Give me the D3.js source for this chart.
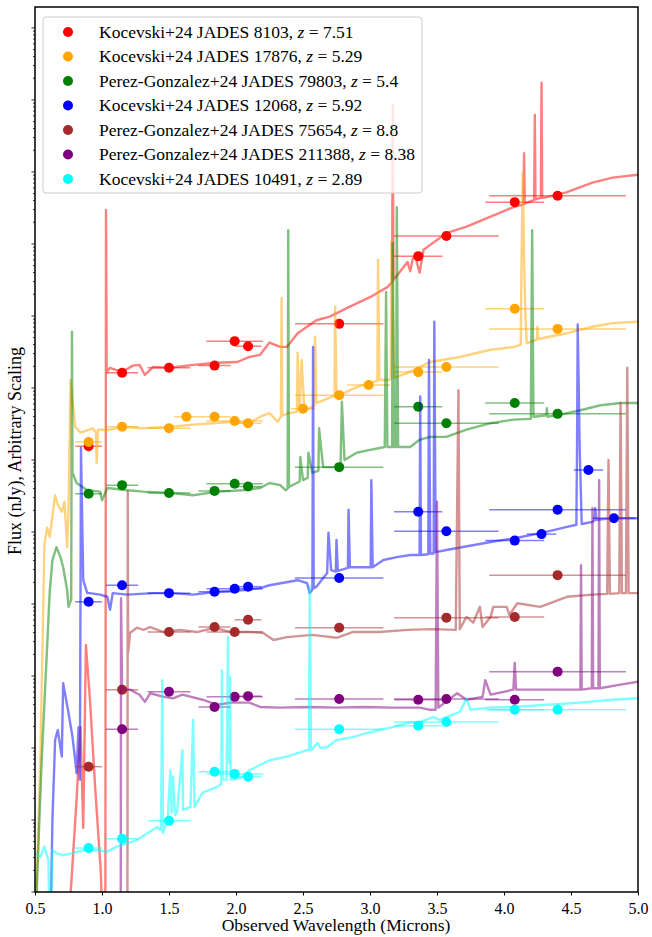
<!DOCTYPE html>
<html>
<head>
<meta charset="utf-8">
<title>JADES spectra</title>
<script src="https://d3js.org/d3.v7.min.js"></script>
<style>
    body { margin: 0; background: #fff; }
    text { font-family: "Liberation Serif", "DejaVu Serif", serif; fill: #000; }
</style>
</head>
<body>
<script>

    // objects, in legend order
    var names = ['Kocevski+24 JADES 8103, ', 'Kocevski+24 JADES 17876, ', 'Perez-Gonzalez+24 JADES 79803, ',
                 'Kocevski+24 JADES 12068, ', 'Perez-Gonzalez+24 JADES 75654, ', 'Perez-Gonzalez+24 JADES 211388, ',
                 'Kocevski+24 JADES 10491, '];
    var redshifts = ['7.51', '5.29', '5.4', '5.92', '8.8', '8.38', '2.89'];
    var colors = ['red', 'orange', 'green', 'blue', 'brown', 'purple', 'cyan'];

    // NIRCam filters: pivot wavelength and half width (microns)
    var filterNames = ['F090W', 'F115W', 'F150W', 'F162M', 'F182M', 'F200W', 'F210M', 'F250M', 'F277W',
                       'F300M', 'F335M', 'F356W', 'F410M', 'F430M', 'F444W', 'F460M', 'F480M'];
    var filterWave = [0.90, 1.15, 1.50, 1.63, 1.84, 1.99, 2.09, 2.50, 2.77, 2.99, 3.36, 3.57, 4.08, 4.28, 4.40, 4.63, 4.82];
    var filterHalf = [0.10, 0.12, 0.16, 0.09, 0.12, 0.21, 0.10, 0.09, 0.33, 0.16, 0.18, 0.39, 0.22, 0.11, 0.51, 0.11, 0.16];

    // spectra: [wavelength (micron), log10 flux (arbitrary scaling)]
    var spec8103 = [[0.76,-0.2],[0.81,1.28],[0.84,2.29],[0.86,0.89],[0.88,3.43],[0.91,2.67],[0.95,1.42],[0.99,0.31],[1.0,-0.2],[1.025,-0.2],
        [1.03,9.47],[1.035,7.22],[1.06,7.28],[1.15,7.22],[1.23,7.31],[1.28,7.32],[1.32,7.18],[1.38,7.29],[1.51,7.28],[1.68,7.32],
        [1.86,7.35],[2.01,7.36],[2.10,7.43],[2.18,7.46],[2.25,7.63],[2.33,7.57],[2.38,7.57],[2.46,7.76],[2.60,7.94],[2.70,7.99],
        [2.85,8.13],[3.00,8.26],[3.13,8.40],[3.165,8.47],[3.17,10.93],[3.175,8.50],[3.28,8.75],[3.30,8.62],[3.32,8.80],[3.34,8.81],
        [3.37,8.60],[3.40,8.92],[3.57,9.15],[3.72,9.24],[3.90,9.38],[4.07,9.51],[4.145,9.55],[4.15,10.26],[4.155,9.56],[4.225,9.61],
        [4.23,10.79],[4.235,9.62],[4.275,9.64],[4.28,11.24],[4.285,9.64],[4.32,9.65],[4.47,9.72],[4.66,9.85],[4.81,9.92],[5.0,9.96]];
    var spec17876 = [[0.51,-0.1],[0.54,1.83],[0.57,4.82],[0.59,5.06],[0.61,4.93],[0.65,5.51],[0.67,5.38],[0.70,5.28],[0.72,5.42],[0.74,4.79],
        [0.75,5.28],[0.765,7.11],[0.78,6.83],[0.80,6.46],[0.84,6.38],[0.93,6.44],[0.955,6.38],[0.96,5.96],[0.97,6.42],[1.06,6.42],
        [1.15,6.46],[1.31,6.44],[1.51,6.46],[1.68,6.49],[1.83,6.51],[1.98,6.53],[2.10,6.51],[2.18,6.60],[2.25,6.65],[2.31,6.53],
        [2.335,6.6],[2.34,8.25],[2.345,6.62],[2.40,6.65],[2.455,6.67],[2.46,7.49],[2.475,6.69],[2.49,7.39],[2.51,6.69],[2.585,6.75],
        [2.59,7.71],[2.60,6.79],[2.72,6.88],[2.735,6.88],[2.74,8.13],[2.75,6.88],[2.90,7.01],[3.00,7.07],[3.055,7.1],[3.06,8.78],
        [3.07,7.11],[3.13,7.11],[3.155,7.12],[3.16,9.03],[3.18,7.14],[3.28,7.21],[3.37,7.29],[3.45,7.36],[3.67,7.43],[3.90,7.53],
        [4.08,7.57],[4.125,7.6],[4.13,8.6],[4.14,9.99],[4.15,8.8],[4.16,8.0],[4.17,7.62],[4.245,7.67],[4.25,7.85],[4.255,7.68],
        [4.47,7.76],[4.66,7.85],[4.81,7.90],[5.0,7.92]];
    var spec79803 = [[0.51,-0.1],[0.55,1.83],[0.60,3.78],[0.61,4.17],[0.63,4.61],[0.66,4.79],[0.69,4.65],[0.71,4.51],[0.74,4.19],[0.75,3.96],
        [0.77,4.06],[0.776,7.78],[0.78,5.82],[0.81,5.68],[0.89,5.58],[0.985,5.56],[1.0,5.44],[1.04,5.61],[1.19,5.58],[1.31,5.56],
        [1.51,5.54],[1.68,5.51],[1.86,5.56],[2.05,5.58],[2.18,5.61],[2.25,5.68],[2.33,5.65],[2.37,5.58],[2.385,5.6],[2.39,9.19],
        [2.395,5.62],[2.40,5.63],[2.475,5.7],[2.48,6.04],[2.50,5.72],[2.535,5.75],[2.54,6.10],[2.57,5.82],[2.615,5.85],[2.62,6.44],
        [2.65,5.90],[2.78,5.90],[2.79,6.81],[2.81,6.0],[2.90,6.10],[3.0,6.14],[3.11,6.18],[3.12,8.33],[3.13,6.18],[3.165,6.18],
        [3.17,9.01],[3.18,6.18],[3.195,6.18],[3.20,9.51],[3.21,6.18],[3.30,6.18],[3.37,6.28],[3.45,6.32],[3.57,6.32],[3.72,6.42],
        [3.90,6.51],[4.07,6.56],[4.20,6.57],[4.21,9.19],[4.22,6.6],[4.315,6.62],[4.32,6.72],[4.325,6.6],[4.42,6.63],[4.57,6.69],
        [4.72,6.76],[4.87,6.79],[5.0,6.79]];
    var spec12068 = [[0.62,-0.1],[0.63,1.0],[0.65,2.11],[0.67,2.25],[0.70,1.88],[0.71,2.90],[0.75,2.49],[0.78,2.15],[0.80,1.83],[0.81,1.65],
        [0.825,2.29],[0.835,1.56],[0.843,6.17],[0.86,4.33],[0.89,4.15],[0.91,4.15],[0.985,4.13],[1.04,4.10],[1.06,3.92],[1.08,4.15],
        [1.19,4.13],[1.38,4.15],[1.51,4.15],[1.68,4.13],[1.86,4.17],[2.05,4.19],[2.18,4.22],[2.25,4.26],[2.46,4.33],[2.53,4.29],
        [2.55,4.15],[2.57,4.2],[2.575,7.57],[2.58,4.22],[2.60,4.24],[2.68,4.43],[2.69,4.99],[2.71,4.47],[2.745,4.45],[2.75,4.89],
        [2.76,4.46],[2.78,4.47],[2.835,4.5],[2.84,5.31],[2.85,4.51],[2.95,4.51],[3.005,4.51],[3.01,5.72],[3.02,4.51],[3.10,4.61],
        [3.20,4.65],[3.30,4.68],[3.37,4.68],[3.375,6.88],[3.38,4.68],[3.435,4.69],[3.44,7.39],[3.45,4.70],[3.475,4.70],[3.48,7.92],
        [3.49,4.72],[3.57,4.75],[3.90,4.86],[4.10,4.92],[4.29,4.99],[4.47,5.07],[4.54,5.10],[4.545,6.14],[4.55,7.88],[4.565,6.14],
        [4.58,5.11],[4.66,5.14],[4.675,5.16],[4.68,5.33],[4.69,5.17],[4.81,5.19],[5.0,5.19]];
    var spec75654 = [[1.17,-0.2],[1.19,-0.2],[1.192,5.56],[1.195,3.32],[1.21,3.60],[1.26,3.67],[1.31,3.64],[1.36,3.68],[1.46,3.61],[1.58,3.64],
        [1.71,3.61],[1.84,3.67],[1.96,3.61],[2.10,3.61],[2.20,3.60],[2.28,3.50],[2.38,3.54],[2.57,3.57],[2.75,3.53],[2.87,3.61],
        [3.07,3.61],[3.28,3.64],[3.47,3.65],[3.64,3.64],[3.66,6.97],[3.67,3.65],[3.72,3.82],[3.77,3.74],[3.82,3.96],[3.84,3.68],
        [3.90,3.82],[3.92,3.96],[4.02,3.96],[4.04,3.85],[4.10,4.01],[4.27,3.96],[4.47,4.10],[4.66,4.13],[4.77,4.14],[4.78,6.0],
        [4.79,4.14],[4.86,4.15],[4.87,6.79],[4.88,4.15],[4.91,4.15],[4.92,7.28],[4.93,4.15],[5.0,4.15]];
    var spec211388 = [[1.12,-0.2],[1.14,-0.2],[1.142,4.08],[1.15,2.81],[1.21,2.81],[1.28,2.74],[1.32,2.64],[1.36,2.76],[1.46,2.71],[1.53,2.69],
        [1.60,2.74],[1.75,2.67],[1.86,2.60],[1.96,2.63],[2.10,2.63],[2.18,2.57],[2.33,2.56],[2.55,2.57],[2.75,2.56],[2.95,2.57],
        [3.17,2.56],[3.37,2.56],[3.45,2.53],[3.49,2.53],[3.50,5.42],[3.51,2.56],[3.65,2.76],[3.72,2.67],[3.84,2.71],[3.86,2.94],
        [3.90,2.74],[4.07,2.81],[4.08,3.18],[4.09,2.81],[4.32,2.81],[4.57,2.81],[4.575,4.54],[4.58,2.81],[4.655,2.83],[4.66,5.33],
        [4.665,2.83],[4.705,2.83],[4.71,5.72],[4.715,2.83],[4.87,2.88],[5.0,2.92]];
    var spec10491 = [[0.5,0.54],[0.54,0.49],[0.57,0.63],[0.60,0.44],[0.605,-0.1],[0.62,-0.1],[0.63,0.58],[0.66,0.54],[0.71,0.51],[0.78,0.54],
        [0.86,0.58],[0.96,0.58],[1.04,0.56],[1.11,0.63],[1.19,0.68],[1.26,0.72],[1.34,0.82],[1.41,0.90],[1.44,0.86],[1.45,2.94],
        [1.455,0.82],[1.49,1.0],[1.51,1.69],[1.52,1.1],[1.53,1.60],[1.545,1.07],[1.56,1.10],[1.60,1.97],[1.605,1.14],[1.66,1.18],
        [1.68,2.39],[1.69,1.18],[1.75,1.38],[1.86,1.46],[1.89,1.5],[1.895,3.08],[1.90,1.56],[1.93,1.56],[1.94,3.54],[1.945,1.8],
        [1.955,2.99],[1.96,1.56],[1.98,1.56],[2.05,1.60],[2.10,1.69],[2.25,1.83],[2.38,1.88],[2.53,1.97],[2.545,1.97],[2.55,4.24],
        [2.56,1.97],[2.61,2.07],[2.63,2.0],[2.68,2.01],[2.75,2.11],[2.87,2.15],[2.98,2.21],[3.07,2.25],[3.17,2.29],[3.28,2.35],
        [3.37,2.36],[3.47,2.43],[3.52,2.39],[3.67,2.5],[3.72,2.69],[3.75,2.53],[3.90,2.56],[4.07,2.57],[4.32,2.60],[4.57,2.63],
        [4.81,2.67],[5.0,2.69]];

    // photometry: [filter, log10 flux]
    var phot8103 = [['F090W',6.19],['F115W',7.21],['F150W',7.28],['F182M',7.31],['F200W',7.65],['F210M',7.58],['F277W',7.89],
        ['F335M',8.83],['F356W',9.11],['F410M',9.58],['F444W',9.67]];
    var phot17876 = [['F090W',6.25],['F115W',6.46],['F150W',6.44],['F162M',6.60],['F182M',6.60],['F200W',6.54],['F210M',6.51],
        ['F250M',6.71],['F277W',6.90],['F300M',7.04],['F335M',7.22],['F356W',7.29],['F410M',8.10],['F444W',7.82]];
    var phot79803 = [['F090W',5.53],['F115W',5.65],['F150W',5.54],['F182M',5.57],['F200W',5.67],['F210M',5.63],['F277W',5.90],
        ['F335M',6.74],['F356W',6.51],['F410M',6.79],['F444W',6.64]];
    var phot12068 = [['F090W',4.03],['F115W',4.26],['F150W',4.15],['F182M',4.17],['F200W',4.21],['F210M',4.24],['F277W',4.36],
        ['F335M',5.28],['F356W',5.01],['F410M',4.88],['F430M',4.97],['F444W',5.31],['F460M',5.86],['F480M',5.19]];
    var phot75654 = [['F090W',1.74],['F115W',2.81],['F150W',3.61],['F182M',3.68],['F200W',3.61],['F210M',3.78],['F277W',3.67],
        ['F356W',3.81],['F410M',3.82],['F444W',4.40]];
    var phot211388 = [['F115W',2.26],['F150W',2.78],['F182M',2.57],['F200W',2.71],['F210M',2.72],['F277W',2.68],['F335M',2.67],
        ['F356W',2.68],['F410M',2.67],['F444W',3.06]];
    var phot10491 = [['F090W',0.61],['F115W',0.74],['F150W',0.99],['F182M',1.67],['F200W',1.64],['F210M',1.60],['F277W',2.26],
        ['F335M',2.31],['F356W',2.36],['F410M',2.53],['F444W',2.53]];

    var spectra = [spec8103, spec17876, spec79803, spec12068, spec75654, spec211388, spec10491];
    var photometry = [phot8103, phot17876, phot79803, phot12068, phot75654, phot211388, phot10491];

    var xTicks = [0.5, 1.0, 1.5, 2.0, 2.5, 3.0, 3.5, 4.0, 4.5, 5.0];
    var yTopLog = 12.29;

    var svg = d3.select('body')
                    .append('svg')
                    .attr('width', 652)
                    .attr('height', 937);

    var x = d3.scaleLinear().domain([0.5, 5.0]).range([35, 638]);
    var y = d3.scaleLog().domain([1, Math.pow(10, yTopLog)]).range([892, 7]);

    function yv(v) { return y(Math.pow(10, v)); }
    function fIndex(f) { return filterNames.indexOf(f); }

    svg.append('clipPath').attr('id', 'plotclip')
        .append('rect').attr('x', 35).attr('y', 7).attr('width', 603).attr('height', 885);

    var plot = svg.append('g').attr('clip-path', 'url(#plotclip)');

    var line = d3.line()
            .x(function(d) { return x(d[0]); })
            .y(function(d) { return yv(d[1]); });

    // layer contents: spectrum, error bars, points for each object
    spectra.forEach(function(spec, i) {
        var g = plot.append('g');
        g.append('path')
            .attr('d', line(spec))
            .attr('fill', 'none')
            .attr('stroke', colors[i])
            .attr('stroke-width', 2.4)
            .attr('stroke-opacity', 0.5)
            .attr('stroke-linejoin', 'round');

        g.selectAll('line.err')
            .data(photometry[i])
            .enter()
            .append('line')
            .attr('class', 'err')
            .attr('x1', function(d) { var k = fIndex(d[0]); return x(filterWave[k] - filterHalf[k]); })
            .attr('x2', function(d) { var k = fIndex(d[0]); return x(filterWave[k] + filterHalf[k]); })
            .attr('y1', function(d) { return yv(d[1]); })
            .attr('y2', function(d) { return yv(d[1]); })
            .attr('stroke', colors[i])
            .attr('stroke-width', 1.5)
            .attr('stroke-opacity', 0.5);

        g.selectAll('circle')
            .data(photometry[i])
            .enter()
            .append('circle')
            .attr('cx', function(d) { return x(filterWave[fIndex(d[0])]); })
            .attr('cy', function(d) { return yv(d[1]); })
            .attr('r', 5)
            .style('fill', colors[i]);
    });

    // frame
    svg.append('rect')
        .attr('x', 35).attr('y', 7).attr('width', 603).attr('height', 885)
        .attr('fill', 'none').attr('stroke', '#000').attr('stroke-width', 1.5);

    // x axis
    var xAxis = d3.axisBottom(x).tickValues(xTicks).tickFormat(d3.format('.1f')).tickSize(3.5).tickSizeOuter(0);
    var xg = svg.append('g').attr('transform', 'translate(0,892)').call(xAxis);
    xg.select('.domain').remove();
    xg.selectAll('text').attr('dy', '0.95em').style('font-size', '16px')
        .style('font-family', '"Liberation Serif", serif');

    // y axis: log ticks only, no labels
    var yTickVals = [];
    for (var k = 0; k <= 12; k++) {
        for (var m = 1; m <= 9; m++) {
            if (k + Math.log10(m) <= yTopLog) yTickVals.push(m * Math.pow(10, k));
        }
    }
    svg.append('g').selectAll('line')
        .data(yTickVals)
        .enter()
        .append('line')
        .attr('x1', 35)
        .attr('x2', function(d) { return Math.abs(Math.log10(d) % 1) < 1e-9 ? 31.5 : 33; })
        .attr('y1', function(d) { return y(d); })
        .attr('y2', function(d) { return y(d); })
        .attr('stroke', '#000')
        .attr('stroke-width', 0.8);

    // axis labels
    svg.append('text')
        .attr('x', 336).attr('y', 931)
        .attr('text-anchor', 'middle')
        .style('font-size', '17.5px')
        .text('Observed Wavelength (Microns)');

    svg.append('text')
        .attr('transform', 'translate(21,451) rotate(-90)')
        .attr('text-anchor', 'middle')
        .style('font-size', '18px')
        .text('Flux (nJy), Arbitrary Scaling');

    // legend
    var legend = svg.append('g');
    legend.append('rect')
        .attr('x', 43).attr('y', 17).attr('width', 379).attr('height', 176).attr('rx', 3)
        .attr('fill', '#fff').attr('fill-opacity', 0.8)
        .attr('stroke', '#ccc').attr('stroke-width', 1);

    names.forEach(function(n, i) {
        var ly = 32 + i * 24.5;
        legend.append('circle').attr('cx', 68).attr('cy', ly).attr('r', 5).style('fill', colors[i]);
        var t = legend.append('text').attr('x', 99).attr('y', ly + 5.5).style('font-size', '17.5px');
        t.append('tspan').text(n);
        t.append('tspan').style('font-style', 'italic').text('z');
        t.append('tspan').text(' = ' + redshifts[i]);
    });

</script>
</body>
</html>
